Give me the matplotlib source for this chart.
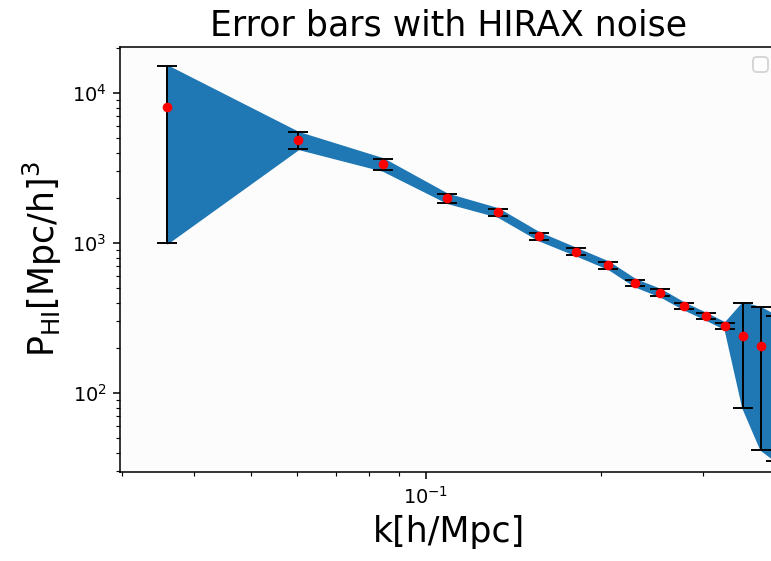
import matplotlib
matplotlib.use('Agg')
import matplotlib.pyplot as plt
import numpy as np

# binned k and HI power spectrum with HIRAX noise errors
k = [0.0359, 0.0604, 0.0844, 0.1089, 0.1331, 0.1566, 0.1816, 0.2059,
     0.2293, 0.2533, 0.2783, 0.3028, 0.3269, 0.3507, 0.3767, 0.4010]
P_HI = [8100, 4860, 3350, 1990, 1600, 1110, 875, 713,
        543, 466, 380, 326, 281, 240, 207, 180]
sigma = [7100, 600, 300, 130, 95, 63, 45, 37,
         28, 24, 18, 15, 13, 160, 165, 145]

k = np.array(k)
P_HI = np.array(P_HI)
sigma = np.array(sigma)

DPI = 139
fig = plt.figure(figsize=(771/DPI, 561/DPI), dpi=DPI)
ax = fig.add_axes([120/771, 89/561, 658/771, 425/561])
ax.set_facecolor('#fcfcfc')

ax.fill_between(k, P_HI - sigma, P_HI + sigma, color='C0')
ax.errorbar(k, P_HI, yerr=sigma, fmt='o', color='red', ecolor='black',
            markersize=4, capsize=5, elinewidth=1)

ax.set_xscale('log')
ax.set_yscale('log')
ax.set_xlim(0.0298, 0.4034)
ax.set_ylim(29.75, 20260)

ax.set_title('Error bars with HIRAX noise', fontsize=18)
ax.set_xlabel('k[h/Mpc]', fontsize=18)
ax.set_ylabel(r'P$_{\rm HI}$[Mpc/h]$^3$', fontsize=18)
ax.legend(loc='upper right')

fig.savefig('out.png', dpi=DPI)
